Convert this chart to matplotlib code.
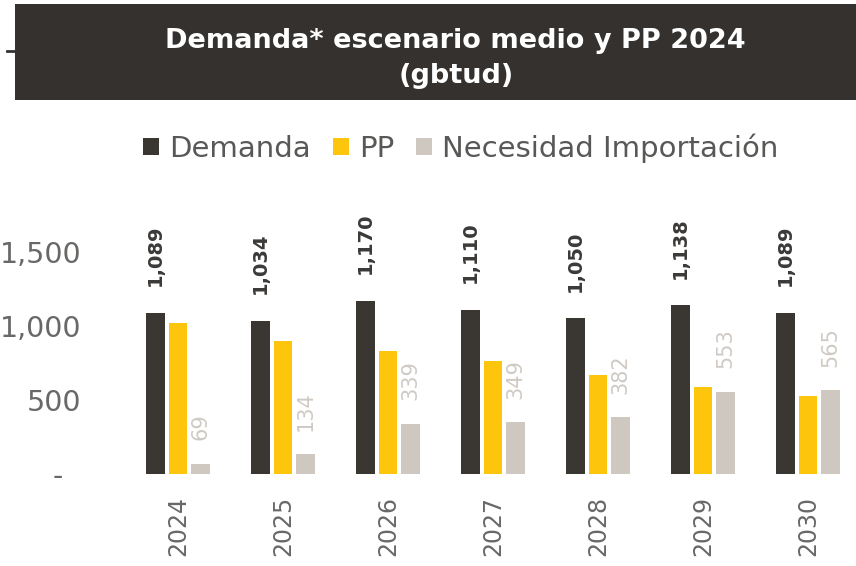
import numpy as np
import matplotlib
matplotlib.use('Agg')
import matplotlib.pyplot as plt
from matplotlib.patches import Rectangle
from matplotlib.lines import Line2D
from matplotlib.ticker import FuncFormatter

years = ['2024', '2025', '2026', '2027', '2028', '2029', '2030']
demanda = [1089, 1034, 1170, 1110, 1050, 1138, 1089]
necesidad = [69, 134, 339, 349, 382, 553, 565]
pp = [1020, 900, 831, 761, 668, 585, 524]

c_dem = '#3a3632'
c_pp = '#fdc50c'
c_nec = '#cfc8c0'
c_tick = '#6a6867'

W, H = 856, 566
fig = plt.figure(figsize=(W / 100, H / 100), dpi=100)
fig.patch.set_facecolor('white')

# dark title banner
fig.add_artist(Rectangle((15 / W, 1 - 100 / H), 850 / W, 96 / H,
                         transform=fig.transFigure, facecolor='#34312f',
                         edgecolor='none'))
fig.add_artist(Line2D([7 / W, 16 / W], [1 - 51 / H, 1 - 51 / H],
                      transform=fig.transFigure, color='#333', lw=2))
fig.text(455 / W, 1 - 48 / H, 'Demanda* escenario medio y PP 2024',
         color='white', fontsize=19.5, fontweight='semibold', ha='center', va='baseline')
fig.text(456 / W, 1 - 83 / H, '(gbtud)',
         color='white', fontsize=19.5, fontweight='semibold', ha='center', va='baseline')

# plot area: baseline at y=474px, groups spaced 105px
ax = fig.add_axes([95 / W, 92 / H, 761 / W, 280 / H])
x = np.arange(len(years))
bw = 0.18
off = 0.215
b1 = ax.bar(x - off, demanda, bw, color=c_dem, label='Demanda')
b2 = ax.bar(x, pp, bw, color=c_pp, label='PP')
b3 = ax.bar(x + off, necesidad, bw, color=c_nec, label='Necesidad Importación')

for xi, v in zip(x, demanda):
    ax.annotate('{:,}'.format(v), (xi - off, v), xytext=(0, 19),
                textcoords='offset points', rotation=90, ha='center',
                va='bottom', fontsize=14, fontweight='bold', color='#3c3a38')
for xi, v in zip(x, necesidad):
    ax.annotate('{:,}'.format(v), (xi + off, v), xytext=(0, 17),
                textcoords='offset points', rotation=90, ha='center',
                va='bottom', fontsize=15, color='#cfcac4')

ax.set_xlim(-0.79, 6.457)
ax.set_ylim(0, 1890)
ax.set_yticks([0, 500, 1000, 1500])
ax.yaxis.set_major_formatter(FuncFormatter(
    lambda v, p: '-  ' if v == 0 else '{:,.0f}'.format(v)))
ax.set_xticks(x)
ax.set_xticklabels(years, rotation=90)
ax.tick_params(axis='y', length=0, pad=10, labelsize=20.5, labelcolor=c_tick)
ax.tick_params(axis='x', length=0, pad=16, labelsize=17, labelcolor=c_tick)
for s in ax.spines.values():
    s.set_visible(False)

fig.legend(handles=[b1, b2, b3], loc='center', bbox_to_anchor=(461 / W, 1 - 148 / H),
           ncol=3, frameon=False, fontsize=21, handlelength=0.55, handleheight=0.55,
           handletextpad=0.35, columnspacing=0.75, labelcolor='#5a5857')

fig.savefig('out.png', dpi=100)
